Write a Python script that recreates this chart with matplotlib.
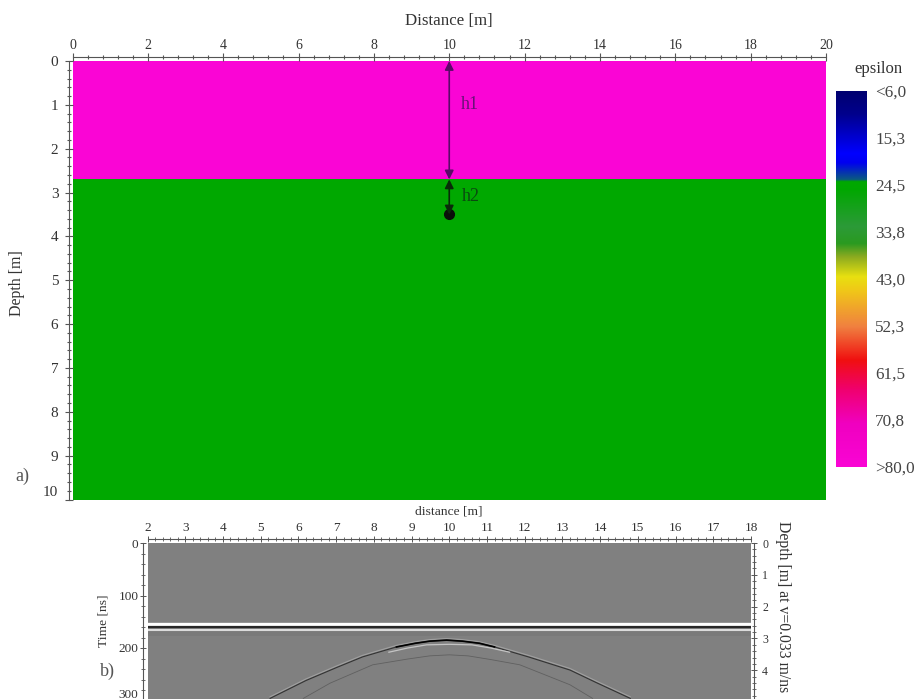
import matplotlib
matplotlib.use("Agg")
import matplotlib.pyplot as plt
import numpy as np
from matplotlib.colors import LinearSegmentedColormap

plt.rcParams['font.family'] = ['Liberation Serif', 'DejaVu Serif']
TXT = '#333333'

# ---- data ----
layer_depth_edges = [0, 2.7, 10]
model_x_edges = [0, 20]
layer_epsilon = [80.0, 24.5]
eps_min, eps_max = 6.0, 80.0
cmap_positions = [0, 0.06, 0.165, 0.19, 0.235, 0.24, 0.26, 0.36, 0.405, 0.44, 0.494, 0.53, 0.627, 0.716, 0.796, 0.885, 1]
cmap_colors = ['#000070', '#00008c', '#0000ff', '#0000f0', '#0a5a80', '#00a800', '#00a800', '#2c9a38', '#2a9a20', '#8aaa20',
               '#e8e010', '#f0c818', '#f08040', '#f01010', '#f00070', '#f000c0', '#fa05d5']
cbar_labels = ['<6,0', '15,3', '24,5', '33,8', '43,0', '52,3', '61,5', '70,8', '>80,0']
cbar_values = [6.0, 15.25, 24.5, 33.75, 43.0, 52.25, 61.5, 70.75, 80.0]
h1_range = [0, 2.7]
h2_range = [2.7, 3.5]
target_x, target_depth = 10, 3.5

direct_t = [154, 160, 166]
direct_colors = ['white', '#282828', '#dcdcdc']
direct_lw = [2.4, 1.6, 1.5]
band_t = [168, 178]

refl_x = [5.25, 6.2, 7.02, 7.7, 8.6, 9.1, 9.48, 9.93, 10.35, 10.8, 11.2, 12.1, 13.2, 13.9, 14.8]
refl_t = [296, 262, 237, 217, 198, 191, 187, 185, 187, 191, 198, 217, 242, 266, 296]
strong_x = [8.6, 9.1, 9.48, 9.93, 10.35, 10.8, 11.2]
strong_t = [198, 191, 187, 185, 187, 191, 198]
refl2_x = [6.13, 6.84, 7.97, 8.9, 9.48, 10.0, 10.5, 11.1, 11.87, 13.2, 13.8]
refl2_t = [296, 267, 232, 221, 215, 213, 215, 222, 232, 270, 296]
under_x = [8.4, 8.9, 9.4, 10.0, 10.6, 11.1, 11.6]
under_t = [208, 200, 194, 193, 194, 200, 208]

model_xticks = [0, 2, 4, 6, 8, 10, 12, 14, 16, 18, 20]
model_yticks = [0, 1, 2, 3, 4, 5, 6, 7, 8, 9, 10]
radar_xticks = list(range(2, 19))
radar_yticks = [0, 100, 200, 300]
depth_ticks = [0, 1, 2, 3, 4]

# ---- layout ----
W, H = 917, 699
fig = plt.figure(figsize=(W / 100, H / 100), dpi=100, facecolor='white')
def axpx(l, t, r, b):
    return fig.add_axes([l / W, 1 - b / H, (r - l) / W, (b - t) / H])

def style(ax, sides, off):
    for s in ax.spines.values():
        s.set_visible(False)
    for s in sides:
        ax.spines[s].set_visible(True)
        ax.spines[s].set_position(('outward', off))
        ax.spines[s].set_linewidth(0.8)
        ax.spines[s].set_color('#555555')

# ---- model panel ----
cmap = LinearSegmentedColormap.from_list('eps', list(zip(cmap_positions, cmap_colors)), N=512)
ax = axpx(72.5, 61, 826, 499.5)
ax.pcolormesh(model_x_edges, layer_depth_edges, np.array(layer_epsilon)[:, None],
              cmap=cmap, vmin=eps_min, vmax=eps_max, shading='flat')
ax.set_xlim(0, 20); ax.set_ylim(10, 0)
style(ax, ['top', 'left'], 2.7)
ax.xaxis.tick_top()
ax.set_xticks(model_xticks); ax.set_yticks(model_yticks)
ax.set_xticks(np.arange(0, 20.01, 0.4), minor=True)
ax.set_yticks(np.arange(0, 10.01, 0.2), minor=True)
ax.tick_params(which='major', direction='inout', length=6, width=0.8, color='#555555', labelcolor=TXT)
ax.tick_params(which='minor', direction='inout', length=3, width=0.8, color='#555555')
ax.tick_params(axis='x', which='major', labelsize=10, pad=1)
ax.tick_params(axis='y', which='major', labelsize=11, pad=4.5)
ax.get_yticklabels()[-1].set_va('bottom')

for rng, col in ((h1_range, '#5a0a68'), (h2_range, '#0a2a0a')):
    ax.annotate('', xy=(target_x, rng[0]), xytext=(target_x, rng[1]),
                arrowprops=dict(arrowstyle='<|-|>', color=col, lw=1.2, shrinkA=0, shrinkB=0,
                                mutation_scale=13))
ax.plot([target_x], [target_depth], 'o', ms=7, color='#0a0f0a', clip_on=False)
ax.text(10.55, 1.0, 'h1', fontsize=13, color='#6a1078', ha='center', va='center')
ax.text(10.58, 3.1, 'h2', fontsize=13, color='#0a4a10', ha='center', va='center')

fig.text(449 / W, 1 - 21 / H, 'Distance [m]', fontsize=12.2, color=TXT, ha='center', va='center')
fig.text(17 / W, 1 - 283 / H, 'Depth [m]', fontsize=11.5, color=TXT, rotation=90, ha='center', va='center')
fig.text(22 / W, 1 - 476 / H, 'a)', fontsize=13, color='#555555', ha='center', va='center')

# ---- colour scale ----
cax = axpx(836, 91, 867, 467)
cax.imshow(np.linspace(eps_min, eps_max, 512)[:, None], cmap=cmap, aspect='auto',
           extent=[0, 1, eps_max, eps_min], vmin=eps_min, vmax=eps_max)
cax.set_xticks([])
cax.yaxis.tick_right()
cax.set_yticks(cbar_values, cbar_labels)
cax.tick_params(length=0, labelsize=12.3, labelcolor='#444444', pad=6)
for s in cax.spines.values():
    s.set_visible(False)
fig.text(878 / W, 1 - 69 / H, 'epsilon', fontsize=12, color=TXT, ha='center', va='center')

# ---- radargram panel ----
bx = axpx(147.5, 543, 751, 700.5)
bx.set_facecolor('#808080')
bx.set_xlim(2, 18); bx.set_ylim(300, 0)
bx.axhspan(band_t[0], band_t[1], color='#7a7a7a', lw=0)
for t, c, lw in zip(direct_t, direct_colors, direct_lw):
    bx.axhline(t, color=c, lw=lw)
bx.plot(refl_x, np.array(refl_t) - 3, color='#a0a0a0', lw=0.8)
bx.plot(refl_x, refl_t, color='#333333', lw=0.8)
bx.plot(strong_x, strong_t, color='black', lw=1.2)
bx.plot(under_x, under_t, color='#c4c4c4', lw=0.9)
bx.plot(refl2_x, refl2_t, color='#606060', lw=0.6)
style(bx, ['top', 'left'], 3)
bx.xaxis.tick_top()
bx.set_xticks(radar_xticks); bx.set_yticks(radar_yticks)
bx.set_xticks(np.arange(2, 18.01, 0.2), minor=True)
bx.set_yticks(np.arange(0, 300.1, 20), minor=True)
bx.tick_params(which='major', direction='inout', length=5, width=0.7, color='#555555',
               labelsize=9.5, labelcolor=TXT, pad=1)
bx.tick_params(which='minor', direction='inout', length=2.5, width=0.6, color='#555555')
bx.get_yticklabels()[-1].set_va('bottom')

vel = 0.033
rx = bx.twinx()
rx.set_ylim(300 * vel / 2, 0)
style(rx, ['right'], 2.5)
rx.spines['top'].set_visible(False)
rx.set_yticks(depth_ticks)
rx.set_yticks(np.arange(0, 4.9, 0.2), minor=True)
rx.tick_params(which='major', direction='inout', length=5, width=0.7, color='#555555',
               labelsize=8.5, labelcolor=TXT, pad=3)
rx.tick_params(which='minor', direction='inout', length=2.5, width=0.6, color='#555555')

fig.text(449 / W, 1 - 512 / H, 'distance [m]', fontsize=9.7, color=TXT, ha='center', va='center')
fig.text(104 / W, 1 - 621 / H, 'Time [ns]', fontsize=9.7, color=TXT, rotation=90, ha='center', va='center')
fig.text(107 / W, 1 - 671 / H, 'b)', fontsize=13, color='#555555', ha='center', va='center')
fig.text(783 / W, 1 - 607 / H, 'Depth [m] at v=0.033 m/ns', fontsize=11.3, color=TXT, rotation=-90,
         ha='center', va='center')

fig.savefig('out.png', dpi=100)
